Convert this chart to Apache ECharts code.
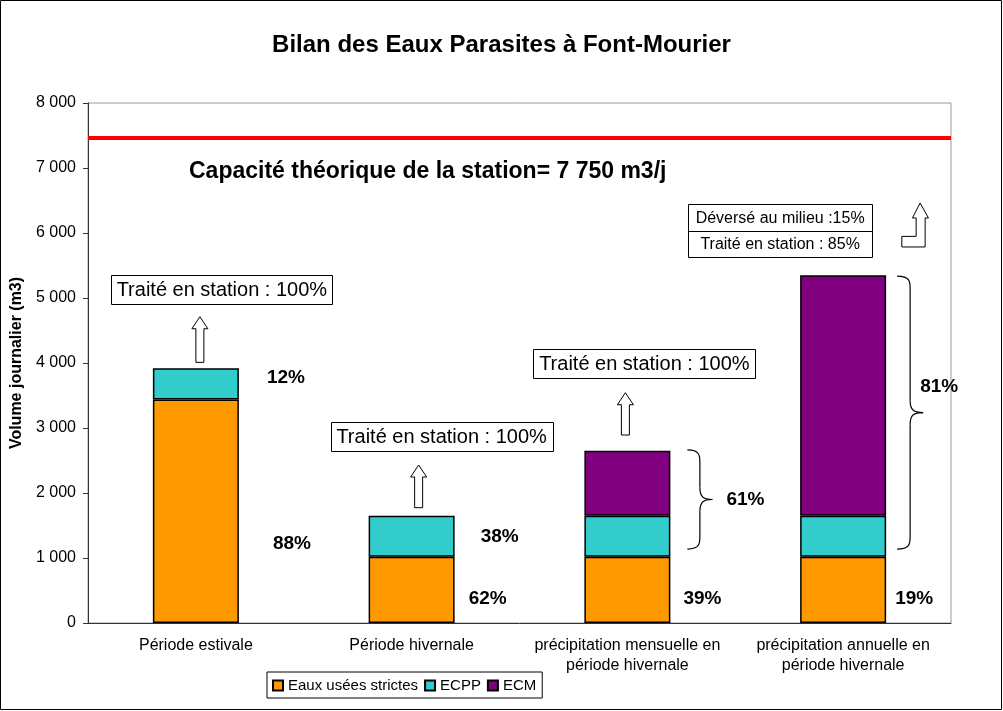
<!DOCTYPE html>
<html lang="fr">
<head>
<meta charset="UTF-8">
<title>Bilan des Eaux Parasites</title>
<script src="https://cdn.jsdelivr.net/npm/echarts@6/dist/echarts.min.js"></script>
<style>
  html, body { margin: 0; padding: 0; background: #fff; }
  #main { width: 1003px; height: 711px; }
</style>
</head>
<body>
<div id="main"></div>
<script>
// données
var categories = [
  'Période estivale',
  'Période hivernale',
  'précipitation mensuelle en\npériode hivernale',
  'précipitation annuelle en\npériode hivernale'
];
var eauxUsees = [3440, 1020, 1020, 1020];
var ecpp = [480, 630, 630, 630];
var ecm = ['-', '-', 1000, 3700];
var capacite = 7470;
var yTicks = [0, 1000, 2000, 3000, 4000, 5000, 6000, 7000, 8000];

// annotations : [catégorie, valeur, décalage x, texte]
var pourcentages = [
  [0, 3770, 71, '12%'],
  [0, 1215, 77, '88%'],
  [1, 1323, 69, '38%'],
  [1, 369, 57, '62%'],
  [2, 1892, 99, '61%'],
  [2, 369, 56, '39%'],
  [3, 3635, 77, '81%'],
  [3, 369, 52, '19%']
];
var boites = [
  // [cat, valeur centre, dx centre, largeur, hauteur, texte, taille]
  [0, 5130, 26, 221, 29, 'Traité en station : 100%', 20],
  [1, 2866, 30, 222, 29, 'Traité en station : 100%', 20],
  [2, 3995, 17, 222, 29, 'Traité en station : 100%', 20],
  [3, 6241, -63, 184, 27, 'Déversé au milieu :15%', 16],
  [3, 5835, -63, 184, 26, 'Traité en station : 85%', 16]
];
var fleches = [
  // [cat, valeur bas, valeur haut, dx]
  [0, 4010, 4712, 4],
  [1, 1774, 2431, 7],
  [2, 2892, 3543, -2]
];
var accolades = [
  // [cat, valeur haut, valeur bas, dx gauche, largeur]
  [2, 2662, 1138, 60, 25],
  [3, 5338, 1138, 54, 26]
];

var chart = echarts.init(document.getElementById('main'));

function fmt(v) {
  return String(v).replace(/\B(?=(\d{3})+(?!\d))/g, ' ');
}

var barStyle = { borderColor: '#000', borderWidth: 1.5 };

var option = {
  animation: false,
  title: {
    text: 'Bilan des Eaux Parasites à Font-Mourier',
    left: 'center',
    top: 28,
    textStyle: { fontFamily: 'Liberation Sans', fontSize: 24, fontWeight: 'bold', color: '#000' }
  },
  legend: {
    left: 267,
    top: 672,
    padding: [6, 6, 5, 5],
    itemGap: 6,
    itemWidth: 10,
    itemHeight: 10,
    icon: 'rect',
    borderColor: '#000',
    borderWidth: 1,
    textStyle: { fontFamily: 'Liberation Sans', fontSize: 15, color: '#000' },
    data: ['Eaux usées strictes', 'ECPP', 'ECM']
  },
  grid: {
    left: 88,
    right: 52,
    top: 103,
    bottom: 88,
    outerBoundsMode: 'none',
    show: true,
    borderColor: '#999',
    borderWidth: 1
  },
  xAxis: {
    type: 'category',
    data: categories,
    axisLine: { lineStyle: { color: '#333', width: 1 } },
    axisTick: { length: 5, lineStyle: { color: '#333' } },
    axisLabel: {
      interval: 0,
      hideOverlap: false,
      margin: 13,
      fontFamily: 'Liberation Sans',
      fontSize: 16,
      lineHeight: 20,
      color: '#000'
    }
  },
  yAxis: {
    type: 'value',
    min: 0,
    max: 8000,
    interval: 1000,
    name: 'Volume journalier (m3)',
    nameLocation: 'middle',
    nameGap: 61,
    nameTextStyle: { fontFamily: 'Liberation Sans', fontSize: 16, fontWeight: 'bold', color: '#000' },
    axisLine: { show: true, lineStyle: { color: '#333', width: 1 } },
    axisTick: { show: true, length: 5, lineStyle: { color: '#333' } },
    splitLine: { show: false },
    axisLabel: {
      margin: 12,
      fontFamily: 'Liberation Sans',
      fontSize: 16,
      color: '#000',
      formatter: function (v) { return yTicks.indexOf(v) >= 0 ? fmt(v) : ''; }
    }
  },
  series: [
    {
      name: 'Eaux usées strictes',
      type: 'bar',
      stack: 'total',
      barWidth: 86,
      data: eauxUsees,
      itemStyle: Object.assign({ color: '#FF9900' }, barStyle),
      markLine: {
        silent: true,
        symbol: 'none',
        label: { show: false },
        lineStyle: { color: '#FF0000', width: 4, type: 'solid' },
        data: [{ yAxis: capacite }]
      }
    },
    {
      name: 'ECPP',
      type: 'bar',
      stack: 'total',
      barWidth: 86,
      data: ecpp,
      itemStyle: Object.assign({ color: '#33CCCC' }, barStyle)
    },
    {
      name: 'ECM',
      type: 'bar',
      stack: 'total',
      barWidth: 86,
      data: ecm,
      itemStyle: Object.assign({ color: '#800080' }, barStyle)
    }
  ]
};

chart.setOption(option);

function px(cat, v) {
  return chart.convertToPixel({ gridIndex: 0 }, [cat, v]);
}

var elements = [];

// cadre extérieur
elements.push({
  type: 'rect',
  shape: { x: 0.5, y: 0.5, width: 1001, height: 709 },
  style: { fill: 'none', stroke: '#000', lineWidth: 1 },
  z: 0
});

// capacité
var pCap = px(0, 6950);
elements.push({
  type: 'text',
  x: 189,
  y: pCap[1],
  style: {
    text: 'Capacité théorique de la station= 7 750 m3/j',
    fontFamily: 'Liberation Sans',
    fontSize: 23,
    fontWeight: 'bold',
    fill: '#000',
    verticalAlign: 'middle'
  }
});

pourcentages.forEach(function (d) {
  var p = px(d[0], d[1]);
  elements.push({
    type: 'text',
    x: p[0] + d[2],
    y: p[1],
    style: {
      text: d[3],
      fontFamily: 'Liberation Sans',
      fontSize: 19,
      fontWeight: 'bold',
      fill: '#000',
      verticalAlign: 'middle'
    }
  });
});

boites.forEach(function (d) {
  var p = px(d[0], d[1]);
  var cx = p[0] + d[2];
  elements.push({
    type: 'rect',
    shape: { x: Math.round(cx - d[3] / 2) + 0.5, y: Math.round(p[1] - d[4] / 2) + 0.5, width: d[3], height: d[4] },
    style: { fill: '#fff', stroke: '#000', lineWidth: 1 },
    z: 10
  });
  elements.push({
    type: 'text',
    x: cx,
    y: p[1] + 1,
    style: {
      text: d[5],
      fontFamily: 'Liberation Sans',
      fontSize: d[6],
      fill: '#000',
      align: 'center',
      verticalAlign: 'middle'
    },
    z: 11
  });
});

fleches.forEach(function (d) {
  var b = px(d[0], d[1]);
  var t = px(d[0], d[2]);
  var x = b[0] + d[3];
  elements.push({
    type: 'polygon',
    shape: {
      points: [
        [x - 4, b[1]], [x + 4, b[1]], [x + 4, t[1] + 12], [x + 8, t[1] + 12],
        [x, t[1]], [x - 8, t[1] + 12], [x - 4, t[1] + 12]
      ]
    },
    style: { fill: '#fff', stroke: '#000', lineWidth: 1 }
  });
});

// flèche coudée (déversement)
(function () {
  var a = px(3, 5785);
  var dx = [58.7, 82, 82, 85.3, 77, 69.3, 73, 73, 58.7];
  var dy = [0, 0, -29, -29, -44, -29, -29, -10.6, -10.6];
  var pts = dx.map(function (v, i) { return [a[0] + v, a[1] + dy[i]]; });
  elements.push({
    type: 'polygon',
    shape: { points: pts },
    style: { fill: '#fff', stroke: '#000', lineWidth: 1 }
  });
})();

var braceStyle = { fill: 'none', stroke: '#000', lineWidth: 1.2 };
accolades.forEach(function (d) {
  var t = px(d[0], d[1]);
  var b = px(d[0], d[2]);
  var x0 = t[0] + d[3];
  var w = d[4];
  var xm = x0 + w / 2;
  var x1 = x0 + w;
  var y0 = t[1], y1 = b[1], ym = (y0 + y1) / 2;
  var r = 12;
  elements.push(
    { type: 'bezierCurve', shape: { x1: x0, y1: y0, cpx1: xm, cpy1: y0, cpx2: xm, cpy2: y0 + r / 2, x2: xm, y2: y0 + r }, style: braceStyle },
    { type: 'line', shape: { x1: xm, y1: y0 + r, x2: xm, y2: ym - r }, style: braceStyle },
    { type: 'bezierCurve', shape: { x1: xm, y1: ym - r, cpx1: xm, cpy1: ym - 2, cpx2: xm + 4, cpy2: ym, x2: x1, y2: ym }, style: braceStyle },
    { type: 'bezierCurve', shape: { x1: x1, y1: ym, cpx1: xm + 4, cpy1: ym, cpx2: xm, cpy2: ym + 2, x2: xm, y2: ym + r }, style: braceStyle },
    { type: 'line', shape: { x1: xm, y1: ym + r, x2: xm, y2: y1 - r }, style: braceStyle },
    { type: 'bezierCurve', shape: { x1: xm, y1: y1 - r, cpx1: xm, cpy1: y1 - r / 2, cpx2: xm, cpy2: y1, x2: x0, y2: y1 }, style: braceStyle }
  );
});

chart.setOption({ graphic: { elements: elements } });
</script>
</body>
</html>
